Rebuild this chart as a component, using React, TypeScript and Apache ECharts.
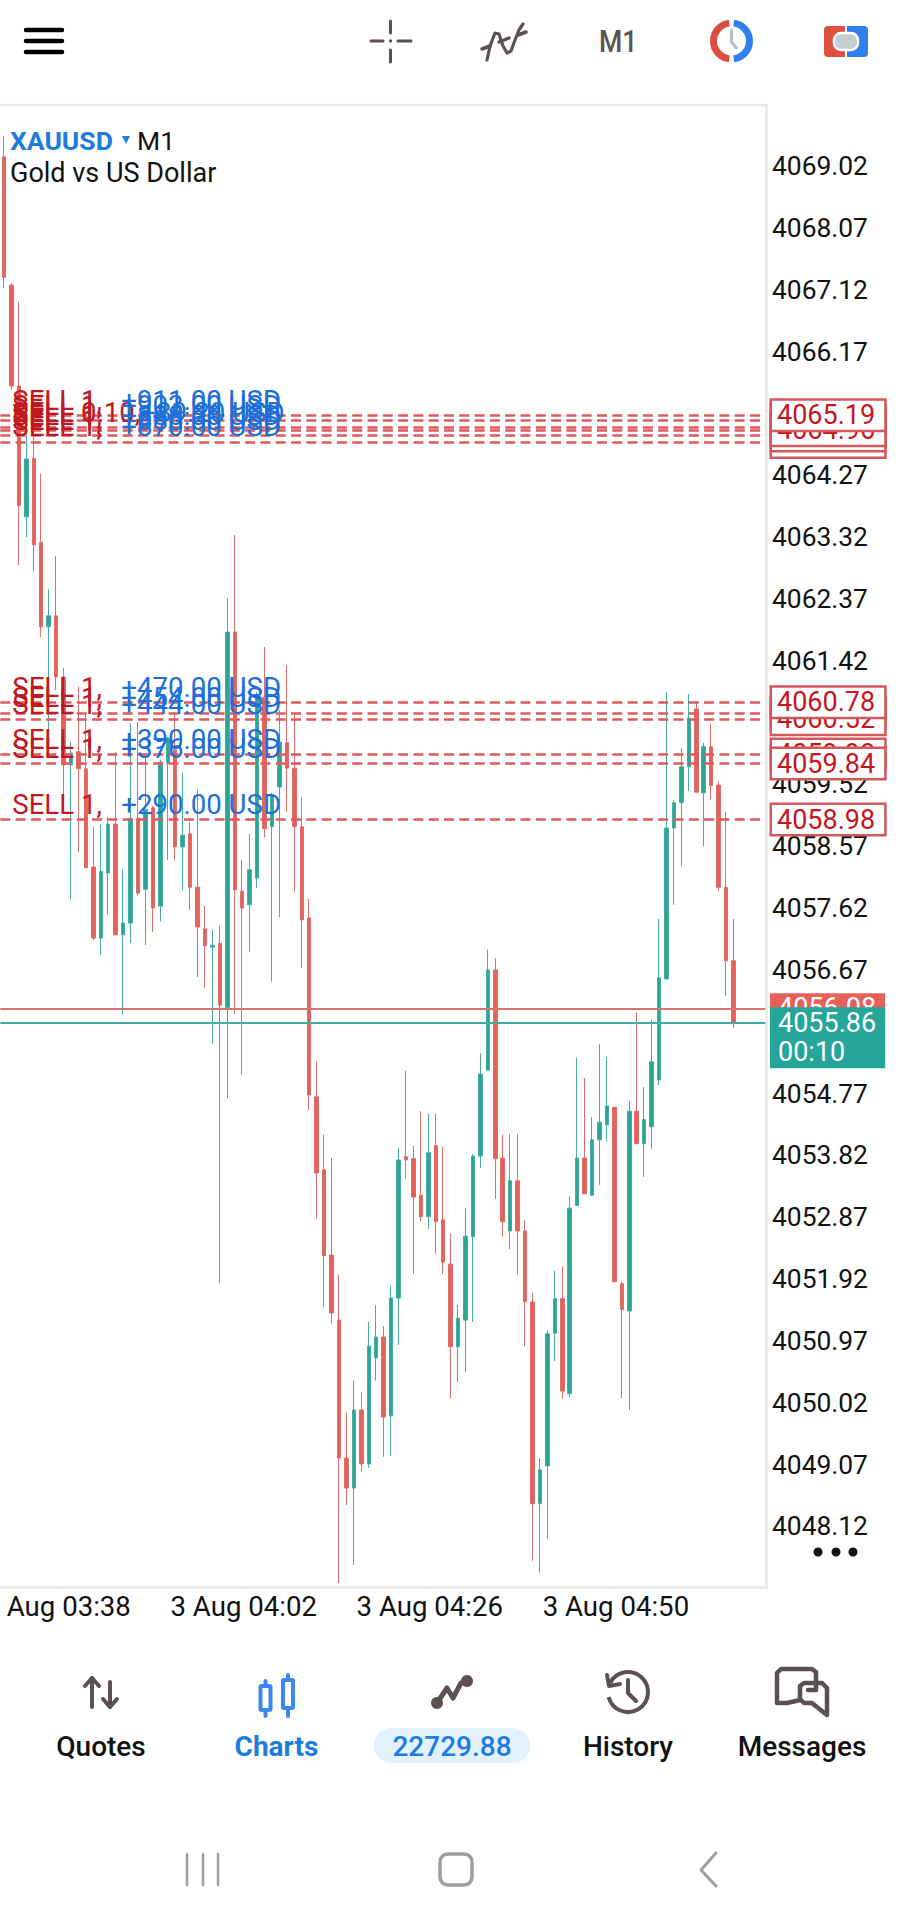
import React, { useEffect, useRef } from "react";
import * as echarts from "echarts";

const opens = [4069.16,4067.19,4065.64,4063.63,4064.53,4063.24,4061.94,4062.11,4061.17,4059.82,4060.02,4059.76,4058.25,4057.16,4058.16,4058.91,4057.21,4057.39,4059.00,4057.91,4059.16,4057.65,4059.85,4060.05,4058.56,4058.76,4057.94,4057.30,4057.02,4057.08,4056.09,4061.86,4057.88,4057.67,4058.08,4060.86,4058.87,4059.48,4060.16,4059.77,4058.87,4057.47,4054.72,4053.60,4052.29,4051.29,4049.17,4048.71,4049.91,4049.08,4050.71,4051.03,4049.82,4051.63,4053.80,4053.77,4053.21,4052.88,4053.97,4052.83,4052.15,4050.88,4051.29,4052.57,4053.81,4055.13,4056.67,4053.78,4052.66,4053.43,4052.66,4051.57,4048.47,4049.05,4051.09,4051.62,4050.16,4053.05,4053.78,4053.21,4054.06,4054.29,4054.56,4051.85,4051.43,4054.50,4054.00,4054.26,4054.98,4056.53,4058.85,4059.24,4059.79,4060.68,4059.39,4060.10,4059.51,4057.94,4056.81];
const closes = [4067.31,4065.64,4063.80,4064.52,4063.20,4061.94,4062.11,4061.17,4059.82,4060.00,4059.76,4058.24,4057.16,4058.18,4058.91,4057.21,4057.39,4059.00,4057.85,4059.13,4057.62,4059.86,4060.23,4058.56,4058.74,4057.94,4057.33,4057.04,4057.05,4056.13,4061.86,4057.90,4057.62,4058.21,4060.86,4058.84,4059.36,4060.17,4059.77,4058.87,4057.44,4054.75,4053.55,4052.28,4051.40,4049.17,4048.71,4049.91,4049.08,4050.89,4051.03,4049.80,4051.63,4053.75,4053.75,4053.18,4052.88,4053.86,4052.80,4052.18,4050.88,4051.32,4052.58,4053.81,4055.07,4056.67,4053.77,4052.80,4053.43,4052.66,4051.57,4048.47,4048.99,4051.08,4051.62,4050.20,4053.01,4053.78,4053.23,4054.06,4054.33,4054.58,4051.88,4051.45,4054.50,4054.00,4054.37,4055.26,4056.55,4058.85,4059.24,4059.79,4060.54,4059.40,4060.10,4059.50,4057.94,4056.81,4055.86];
const highs = [4069.48,4067.22,4066.93,4064.92,4065.12,4064.29,4062.52,4063.03,4061.31,4060.17,4061.02,4060.62,4058.87,4058.90,4059.02,4060.02,4058.21,4060.46,4060.48,4059.94,4059.19,4059.90,4060.25,4060.62,4059.70,4058.94,4059.44,4057.65,4057.28,4057.35,4062.38,4063.35,4058.36,4058.76,4060.94,4061.63,4059.39,4060.66,4061.35,4060.62,4059.33,4057.76,4055.26,4054.14,4053.78,4051.99,4049.87,4050.36,4050.19,4051.26,4051.52,4051.20,4051.82,4053.94,4055.12,4053.97,4054.50,4054.46,4054.46,4053.95,4052.62,4051.52,4053.01,4053.84,4055.39,4056.98,4056.85,4054.14,4054.15,4054.15,4052.83,4051.71,4049.17,4051.14,4052.05,4052.11,4053.20,4055.32,4055.01,4054.41,4055.53,4055.33,4054.56,4051.88,4054.66,4056.02,4054.87,4055.90,4057.45,4060.94,4059.28,4060.08,4060.91,4060.77,4060.16,4060.45,4059.56,4059.10,4057.45];
const lows = [4067.15,4065.58,4062.89,4063.32,4062.80,4061.78,4060.28,4060.97,4059.17,4057.75,4058.48,4058.24,4057.13,4056.90,4057.52,4057.21,4055.98,4057.08,4057.82,4057.05,4057.25,4057.41,4058.36,4058.36,4057.90,4057.59,4056.56,4056.39,4055.53,4051.86,4054.70,4055.99,4055.06,4056.95,4057.93,4058.71,4056.49,4057.48,4059.10,4057.87,4056.70,4054.52,4052.85,4051.49,4051.23,4047.25,4048.45,4047.53,4048.97,4049.02,4050.36,4049.19,4049.20,4050.91,4053.46,4052.00,4052.81,4052.69,4052.31,4052.00,4050.09,4050.34,4050.49,4051.26,4053.63,4055.13,4053.15,4052.57,4052.38,4051.99,4050.89,4047.59,4047.41,4047.93,4050.66,4050.08,4050.11,4053.05,4053.23,4053.20,4053.37,4054.03,4051.88,4050.09,4049.91,4054.00,4053.49,4053.92,4054.90,4056.53,4057.67,4058.27,4059.42,4059.40,4058.57,4059.28,4057.88,4056.27,4055.78];

const priceTicks = [4069.02,4068.07,4067.12,4066.17,4064.27,4063.32,4062.37,4061.42,4059.52,4058.57,4057.62,4056.67,4054.77,4053.82,4052.87,4051.92,4050.97,4050.02,4049.07,4048.12];
const timeTickIndexes = [7, 32, 57, 82];
const timeTickLabels = ["3 Aug 03:38", "3 Aug 04:02", "3 Aug 04:26", "3 Aug 04:50"];
const emptyBarsAtRight = 4;

// drawn in this order, later ones lie on top
const orderPrices = [4064.78, 4064.88, 4065.00, 4065.11, 4064.96, 4065.19, 4060.62, 4060.52, 4060.78, 4059.98, 4059.84, 4058.98];
const orderLots = ["1", "1", "0.10", "1", "1", "1", "1", "1", "1", "1", "1", "1"];
const orderProfits = ["+870.00", "+880.00", "+89.20", "+903.00", "+888.00", "+911.00", "+454.00", "+444.00", "+470.00", "+390.00", "+376.00", "+290.00"];
const bidPrice = 4056.08;
const askPrice = 4055.86;
const countdown = "00:10";

const navItems = ["Quotes", "History", "Messages"];
const balanceText = "22729.88";

const RED = "#E8605A";
const TEAL = "#2AA596";
const DARK = "#5A5150";
const FONT = "Roboto";

const line = (x1: number, y1: number, x2: number, y2: number, stroke: string, lineWidth: number) => ({
  type: "line", z: 100, shape: { x1, y1, x2, y2 }, style: { stroke, lineWidth, lineCap: "round" },
});
const poly = (points: number[][], stroke: string, lineWidth: number) => ({
  type: "polyline", z: 100, shape: { points }, style: { stroke, lineWidth, fill: "none", lineCap: "round", lineJoin: "round" },
});
const text = (t: string, x: number, y: number, fontSize: number, fill: string, fontWeight: any = 400, textAlign = "left", extra: any = {}) => ({
  type: "text", z: 100, x, y, style: { text: t, fontFamily: FONT, fontSize, fill, fontWeight, textAlign, textVerticalAlign: "middle" }, ...extra,
});

function buildGraphics() {
  const g: any[] = [];
  // chart frame
  g.push(line(0, 105, 767, 105, "#E8E8E8", 2.5), line(766.5, 105, 766.5, 1588, "#E8E8E8", 2.5));
  // header
  g.push(line(26, 30, 62, 30, "#000", 4.5), line(26, 41, 62, 41, "#000", 4.5), line(26, 52, 62, 52, "#000", 4.5));
  g.push(line(390.5, 21, 390.5, 33, DARK, 3), line(390.5, 50, 390.5, 62, DARK, 3), line(371, 41, 383, 41, DARK, 3), line(398, 41, 411, 41, DARK, 3));
  g.push({ type: "circle", z: 100, shape: { cx: 390.5, cy: 41, r: 1.6 }, style: { fill: DARK } });
  g.push(poly([[482, 49], [490, 46]], DARK, 3.5), poly([[499, 42], [509, 38]], DARK, 3.5), poly([[518, 35], [526, 32]], DARK, 3.5));
  g.push(poly([[487, 60], [490, 46], [495, 33], [499, 34], [503, 46], [507, 53], [511, 51], [515, 40], [519, 30], [523, 24]], DARK, 3.2));
  g.push(text("M1", 599, 41, 31, DARK, 500, "left", { scaleX: 0.86 }));
  const cx = 731.5;
  g.push({ type: "arc", z: 100, shape: { cx, cy: 41, r: 18, startAngle: Math.PI * 0.54, endAngle: Math.PI * 1.46, clockwise: true }, style: { stroke: "#DC4C3F", lineWidth: 7, fill: "none" } });
  g.push({ type: "arc", z: 100, shape: { cx, cy: 41, r: 18, startAngle: -Math.PI * 0.46, endAngle: Math.PI * 0.46, clockwise: true }, style: { stroke: "#2F80ED", lineWidth: 7, fill: "none" } });
  g.push(poly([[cx, 30], [cx, 42], [cx + 5, 48]], "#B5C0C8", 3));
  g.push({ type: "rect", z: 100, shape: { x: 824, y: 26, width: 21, height: 31, r: [4, 0, 0, 4] }, style: { fill: "#E0503F" } });
  g.push({ type: "rect", z: 100, shape: { x: 847, y: 26, width: 21, height: 31, r: [0, 4, 4, 0] }, style: { fill: "#2F80ED" } });
  g.push({ type: "rect", z: 101, shape: { x: 834, y: 33, width: 24, height: 17, r: 7 }, style: { fill: "#C5CCD2", stroke: "#fff", lineWidth: 2.5 } });
  // chart caption
  g.push(text("XAUUSD", 10, 140, 26.5, "#1E7BE0", 700));
  g.push({ type: "polygon", z: 100, shape: { points: [[122, 136], [130, 136], [126, 144]] }, style: { fill: "#1E7BE0" } });
  g.push(text("M1", 137, 140, 26.5, "#111"));
  g.push(text("Gold vs US Dollar", 10, 173, 27, "#111"));
  // more dots
  [818, 836, 853].forEach((x) => g.push({ type: "circle", z: 100, shape: { cx: x, cy: 1552, r: 4.5 }, style: { fill: "#111" } }));
  // bottom navigation
  g.push(text(navItems[0], 101, 1746, 28, "#111", 500, "center"));
  g.push(text("Charts", 276.5, 1746, 28, "#1E7BE0", 700, "center"));
  g.push({ type: "rect", z: 100, shape: { x: 374, y: 1728, width: 156, height: 35, r: 17 }, style: { fill: "#E1F2FC" } });
  g.push(text(balanceText, 452, 1746, 28, "#1E7BE0", 500, "center"));
  g.push(text(navItems[1], 628, 1746, 28, "#111", 500, "center"));
  g.push(text(navItems[2], 802, 1746, 28, "#111", 500, "center"));
  // quotes icon
  g.push(poly([[92, 1707], [92, 1678]], DARK, 4), poly([[85, 1686], [92, 1678], [99, 1686]], DARK, 4));
  g.push(poly([[110, 1682], [110, 1707]], DARK, 4), poly([[103, 1699], [110, 1707], [117, 1699]], DARK, 4));
  // charts icon
  [265.5, 288].forEach((x, i) => {
    const top = i === 0 ? 1686 : 1680;
    g.push(line(x, top - 5, x, top + 36 - (i === 0 ? 6 : 0), "#3B86F0", 4));
    g.push({ type: "rect", z: 101, shape: { x: x - 5, y: top, width: 10, height: i === 0 ? 24 : 28, r: 1 }, style: { fill: "#fff", stroke: "#3B86F0", lineWidth: 4 } });
  });
  // trade icon
  g.push(poly([[437, 1703], [447, 1688], [453, 1698], [461, 1683], [466, 1681]], DARK, 5));
  g.push({ type: "circle", z: 100, shape: { cx: 437, cy: 1703, r: 6 }, style: { fill: DARK } });
  g.push({ type: "circle", z: 100, shape: { cx: 467, cy: 1681, r: 6 }, style: { fill: DARK } });
  // history icon
  g.push({ type: "arc", z: 100, shape: { cx: 628, cy: 1692, r: 20, startAngle: -Math.PI * 0.85, endAngle: Math.PI * 0.92, clockwise: true }, style: { stroke: DARK, lineWidth: 4, fill: "none" } });
  g.push(poly([[607, 1675], [609, 1686], [620, 1684]], DARK, 4), poly([[628, 1680], [628, 1693], [636, 1701]], DARK, 4));
  // messages icon
  g.push(poly([[808, 1690], [816, 1690], [816, 1672], [812, 1669], [781, 1669], [777, 1673], [777, 1703], [787, 1703], [800, 1700]], DARK, 4.5));
  g.push(poly([[800, 1686], [804, 1683], [822, 1683], [827, 1688], [827, 1715], [812, 1703], [804, 1703], [800, 1699], [800, 1686]], DARK, 4.5));
  // android navigation
  [187, 203, 218].forEach((x) => g.push(line(x, 1854, x, 1885, "#9E9E9E", 2.5)));
  g.push({ type: "rect", z: 100, shape: { x: 440, y: 1854, width: 32, height: 31, r: 8 }, style: { fill: "none", stroke: "#9E9E9E", lineWidth: 3.5 } });
  g.push(poly([[716, 1853], [701, 1870], [716, 1886]], "#9E9E9E", 3));
  return g;
}

const markBase = { silent: true, symbol: "none", animation: false, precision: 2 };

export default function App() {
  const ref = useRef<HTMLDivElement>(null);
  useEffect(() => {
    document.body.style.margin = "0";
    const chart = echarts.init(ref.current!, undefined, { renderer: "svg" });
    const categories = [...opens, ...new Array(emptyBarsAtRight).fill(0)].map((_, i) => {
      const at = timeTickIndexes.indexOf(i);
      return at >= 0 ? timeTickLabels[at] : String(i);
    });
    const isTick = (i: number) => timeTickIndexes.includes(i);
    chart.setOption({
      animation: false,
      backgroundColor: "#fff",
      grid: { left: 0.3, top: 105, width: 766.7, height: 1482, outerBoundsMode: "none", containLabel: false },
      xAxis: {
        type: "category",
        data: categories,
        boundaryGap: true,
        axisLine: { lineStyle: { color: "#E8E8E8", width: 2.5 } },
        axisTick: { show: true, alignWithLabel: true, interval: isTick, length: 2, lineStyle: { color: "#DDD" } },
        axisLabel: { interval: isTick, fontFamily: FONT, fontSize: 27.6, color: "#111", margin: 5, padding: [0, 0, 0, 3] },
        splitLine: { show: false },
      },
      yAxis: {
        type: "value",
        position: "right",
        min: 4047.19,
        max: 4069.957,
        scale: true,
        axisLine: { show: false },
        axisTick: { show: false },
        splitLine: { show: false },
        axisLabel: {
          customValues: priceTicks,
          formatter: (v: number) => v.toFixed(2),
          fontFamily: FONT,
          fontSize: 26.4,
          color: "#111",
          margin: 5,
          showMinLabel: true,
          showMaxLabel: true,
        },
      },
      series: [
        {
          type: "candlestick",
          z: 2,
          barWidth: 4,
          itemStyle: { color: TEAL, color0: RED, borderColor: "#45AEA1", borderColor0: "#DD6E69", borderWidth: 1 },
          data: opens.map((o, i) => [o, closes[i], lows[i], highs[i]]),
          markLine: {
            ...markBase,
            z: 4,
            lineStyle: { type: "solid", width: 1.8, opacity: 1 },
            data: [
              {
                yAxis: bidPrice,
                lineStyle: { color: "#D9736F" },
                label: {
                  show: true, position: "end", formatter: bidPrice.toFixed(2), fontFamily: FONT, fontSize: 27, color: "#fff",
                  backgroundColor: RED, padding: [1, 9, 2, 8], distance: 3, lineHeight: 27,
                },
              },
              {
                yAxis: askPrice,
                lineStyle: { color: "#3FAE9F" },
                label: {
                  show: true, position: "end", formatter: `${askPrice.toFixed(2)}\n${countdown}`, fontFamily: FONT, fontSize: 27, color: "#fff",
                  backgroundColor: "#26A69A", padding: [1, 9, 1, 8], distance: 3, lineHeight: 29.5, offset: [0, 15], align: "left",
                },
              },
            ],
          },
        },
        {
          type: "line",
          z: 5,
          data: [],
          markLine: {
            ...markBase,
            z: 6,
            lineStyle: { type: [10, 5.3], width: 2.6, color: "#DF5A5C", opacity: 1 },
            data: orderPrices.map((p, i) => ({
              yAxis: p,
              label: {
                show: true,
                position: "insideStartTop",
                distance: [12, 1],
                formatter: `{a${orderLots[i] === "1" ? "" : "w"}|SELL ${orderLots[i]},}{b|${orderProfits[i]} USD}`,
                rich: {
                  a: { fontFamily: FONT, fontSize: 27.6, color: "#C0181E", width: 109, align: "left" },
                  aw: { fontFamily: FONT, fontSize: 27.6, color: "#C0181E", width: 128, align: "left" },
                  b: { fontFamily: FONT, fontSize: 27.6, color: "#1C6FD8" },
                },
              },
            })),
          },
        },
        {
          type: "line",
          z: 7,
          data: [],
          markLine: {
            ...markBase,
            z: 8,
            lineStyle: { width: 0, color: "rgba(0,0,0,0)", opacity: 1 },
            data: orderPrices.map((p) => ({
              yAxis: p,
              label: {
                show: true, position: "end", distance: 5, formatter: p.toFixed(2), fontFamily: FONT, fontSize: 27, color: "#C4161C",
                backgroundColor: "#fff", borderColor: "#D4575A", borderWidth: 2.5, padding: [1, 9, 1, 5], lineHeight: 27,
              },
            })),
          },
        },
      ],
      graphic: { elements: buildGraphics() },
    });
    return () => chart.dispose();
  }, []);
  return <div ref={ref} style={{ position: "absolute", left: 0, top: 0, width: 903, height: 1920, background: "#fff" }} />;
}
